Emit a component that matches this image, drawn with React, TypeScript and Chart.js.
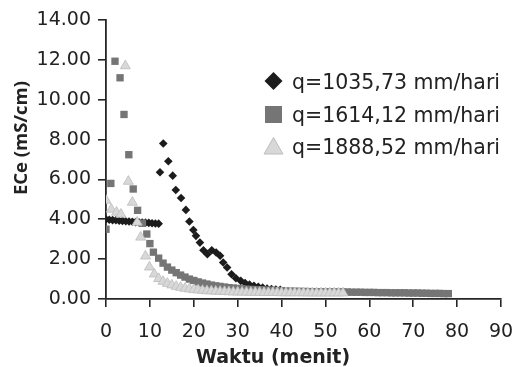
import React, { useEffect, useRef } from 'react';
import { Chart, registerables } from 'chart.js';

Chart.register(...registerables);

const seriesNames = ['q=1035,73 mm/hari', 'q=1614,12 mm/hari', 'q=1888,52 mm/hari'];
const xAxisTitle = 'Waktu (menit)';
const yAxisTitle = 'ECe (mS/cm)';

const diamondX = [0, 0.75, 1.5, 2.25, 3, 3.75, 4.5, 5.25, 6, 6.75, 7.5, 8.25, 9, 9.75, 10.5, 11.25, 12,
  12.3, 13.05, 14.2, 15.2, 15.9, 17.1, 18.2, 19.0, 19.9, 20.5, 21.4, 22.2, 23.1, 24.1, 25.1, 26.0, 26.7,
  27.6, 28.6, 29.6, 30.7, 31.7, 32.7, 33.7, 34.7, 35.7, 36.7, 37.7, 38.7, 39.7];
const diamondY = [4.0, 3.98, 3.96, 3.95, 3.93, 3.92, 3.9, 3.89, 3.88, 3.86, 3.85, 3.84, 3.83, 3.82, 3.8, 3.79, 3.78,
  6.36, 7.8, 6.91, 6.19, 5.47, 5.07, 4.47, 3.89, 3.46, 3.17, 2.83, 2.45, 2.25, 2.45, 2.33, 2.17, 1.83,
  1.58, 1.24, 1.04, 0.91, 0.8, 0.72, 0.66, 0.61, 0.57, 0.53, 0.5, 0.48, 0.46];

const squareX = [0, 1.1, 2.05, 3.2, 4.1, 5.2, 6.2, 7.2, 8.3, 9.3, 10, 10.8,
  12, 13, 14, 15, 16, 17, 18, 19, 20, 21, 22, 23, 24, 25, 26, 27, 28, 29, 30, 31, 32, 33, 34, 35,
  36, 37, 38, 39, 40, 41, 42, 43, 44, 45, 46, 47, 48, 49, 50, 51, 52, 53, 54, 55, 56, 57, 58, 59,
  60, 61, 62, 63, 64, 65, 66, 67, 68, 69, 70, 71, 72, 73, 74, 75, 76, 77, 78];
const squareY = [3.5, 5.8, 11.93, 11.1, 9.26, 7.24, 5.52, 4.45, 3.8, 3.26, 2.78, 2.35,
  2.05, 1.8, 1.6, 1.45, 1.32, 1.2, 1.1, 1.0, 0.93, 0.86, 0.8, 0.75, 0.7, 0.66, 0.63, 0.6, 0.57, 0.55,
  0.53, 0.51, 0.49, 0.48, 0.47, 0.46, 0.45, 0.44, 0.43, 0.42, 0.41, 0.4, 0.39, 0.39, 0.38, 0.38, 0.37,
  0.37, 0.36, 0.36, 0.36, 0.35, 0.35, 0.35, 0.35, 0.35, 0.34, 0.34, 0.34, 0.33, 0.33, 0.33, 0.32, 0.32,
  0.32, 0.31, 0.31, 0.31, 0.31, 0.3, 0.3, 0.3, 0.29, 0.29, 0.28, 0.28, 0.28, 0.27, 0.27];

const triangleX = [0, 1.2, 2.4, 3.4, 4.4, 5.1, 6, 7.1, 7.9, 9, 9.9,
  11, 12, 13, 14, 15, 16, 17, 18, 19, 20, 21, 22, 23, 24, 25, 26, 27, 28, 29, 30, 31, 32, 33, 34,
  35, 36, 37, 38, 39, 40, 41, 42, 43, 44, 45, 46, 47, 48, 49, 50, 51, 52, 53, 54];
const triangleY = [4.95, 4.5, 4.35, 4.25, 11.7, 5.9, 4.85, 3.85, 3.1, 2.15, 1.6,
  1.25, 1.02, 0.88, 0.78, 0.7, 0.63, 0.58, 0.53, 0.5, 0.47, 0.45, 0.43, 0.41, 0.4, 0.39, 0.38, 0.37,
  0.36, 0.35, 0.35, 0.34, 0.34, 0.33, 0.33, 0.33, 0.32, 0.32, 0.32, 0.32, 0.31, 0.31, 0.31, 0.31,
  0.31, 0.31, 0.3, 0.3, 0.3, 0.3, 0.3, 0.3, 0.3, 0.3, 0.3];

const diamondColor = '#1c1c1c';
const squareColor = '#757575';
const triangleColor = '#d8d8d8';
const triangleBorder = '#bdbdbd';
const textColor = '#222222';

const toPoints = (xs: number[], ys: number[]) => xs.map((x, i) => ({ x, y: ys[i] }));

const overlayPlugin = {
  id: 'overlayText',
  afterDraw(chart: any) {
    const ctx = chart.ctx as CanvasRenderingContext2D;
    ctx.save();
    ctx.fillStyle = textColor;
    ctx.font = 'bold 19px "DejaVu Sans"';
    ctx.textAlign = 'center';
    ctx.textBaseline = 'alphabetic';
    ctx.fillText(xAxisTitle, 273, 363);
    ctx.save();
    ctx.translate(22, 138);
    ctx.rotate(-Math.PI / 2);
    ctx.font = 'bold 18.5px "Open Sans"';
    ctx.textBaseline = 'middle';
    ctx.fillText(yAxisTitle, 0, 0);
    ctx.restore();

    // legend
    const mx = 273.5;
    const rows = [81, 114.5, 146.5];
    const base = [89, 121.5, 154];
    ctx.fillStyle = diamondColor;
    ctx.beginPath();
    ctx.moveTo(mx, rows[0] - 9);
    ctx.lineTo(mx + 9, rows[0]);
    ctx.lineTo(mx, rows[0] + 9);
    ctx.lineTo(mx - 9, rows[0]);
    ctx.closePath();
    ctx.fill();
    ctx.fillStyle = squareColor;
    ctx.fillRect(mx - 8.5, rows[1] - 8.5, 17, 17);
    ctx.fillStyle = triangleColor;
    ctx.strokeStyle = triangleBorder;
    ctx.lineWidth = 1;
    ctx.beginPath();
    ctx.moveTo(mx, rows[2] - 9);
    ctx.lineTo(mx + 9.5, rows[2] + 7.5);
    ctx.lineTo(mx - 9.5, rows[2] + 7.5);
    ctx.closePath();
    ctx.fill();
    ctx.stroke();

    ctx.fillStyle = textColor;
    ctx.font = '20.5px "DejaVu Sans"';
    ctx.textAlign = 'left';
    ctx.textBaseline = 'alphabetic';
    seriesNames.forEach((n, i) => ctx.fillText(n, 292, base[i]));
    ctx.restore();
  },
};

export default function App() {
  const ref = useRef<HTMLCanvasElement>(null);
  useEffect(() => {
    if (!ref.current) return;
    const chart = new Chart(ref.current, {
      type: 'scatter',
      data: {
        datasets: [
          {
            label: seriesNames[0],
            data: toPoints(diamondX, diamondY),
            pointStyle: 'rectRot',
            pointRadius: 4.3,
            backgroundColor: diamondColor,
            borderColor: diamondColor,
            borderWidth: 0,
            order: 2,
          },
          {
            label: seriesNames[1],
            data: toPoints(squareX, squareY),
            pointStyle: 'rect',
            pointRadius: 5.2,
            backgroundColor: squareColor,
            borderColor: squareColor,
            borderWidth: 0,
            order: 1,
          },
          {
            label: seriesNames[2],
            data: toPoints(triangleX, triangleY),
            pointStyle: 'triangle',
            pointRadius: 5.8,
            backgroundColor: triangleColor,
            borderColor: triangleBorder,
            borderWidth: 0.8,
            order: 0,
          },
        ],
      },
      options: {
        responsive: false,
        animation: false,
        devicePixelRatio: 1,
        layout: { padding: { top: 20, right: 15, left: 0, bottom: 0 } },
        plugins: { legend: { display: false }, tooltip: { enabled: false } },
        scales: {
          x: {
            type: 'linear',
            min: 0,
            max: 90,
            afterFit: (s: any) => {
              s.height = 68;
              s.paddingRight = 11;
              s.paddingLeft = 0;
            },
            ticks: {
              stepSize: 10,
              color: textColor,
              font: { family: '"DejaVu Sans"', size: 19 },
              padding: 14,
            },
            grid: { drawOnChartArea: false, drawTicks: true, tickLength: 8, color: '#262626', lineWidth: 1.6 },
            border: { display: true, color: '#262626', width: 1.8 },
          },
          y: {
            type: 'linear',
            min: 0,
            max: 14,
            afterFit: (s: any) => { s.width = 106; },
            ticks: {
              stepSize: 2,
              color: textColor,
              font: { family: '"DejaVu Sans"', size: 19 },
              padding: 7,
              callback: (v: any) => Number(v).toFixed(2),
            },
            grid: { drawOnChartArea: false, drawTicks: true, tickLength: 8, color: '#262626', lineWidth: 1.6 },
            border: { display: true, color: '#262626', width: 1.8 },
          },
        },
      },
      plugins: [overlayPlugin],
    });
    return () => chart.destroy();
  }, []);
  return (
    <div style={{ position: 'fixed', left: 0, top: 0, width: 516, height: 367, background: '#fff' }}>
      <canvas ref={ref} width={516} height={367} style={{ display: 'block', width: 516, height: 367 }} />
    </div>
  );
}
